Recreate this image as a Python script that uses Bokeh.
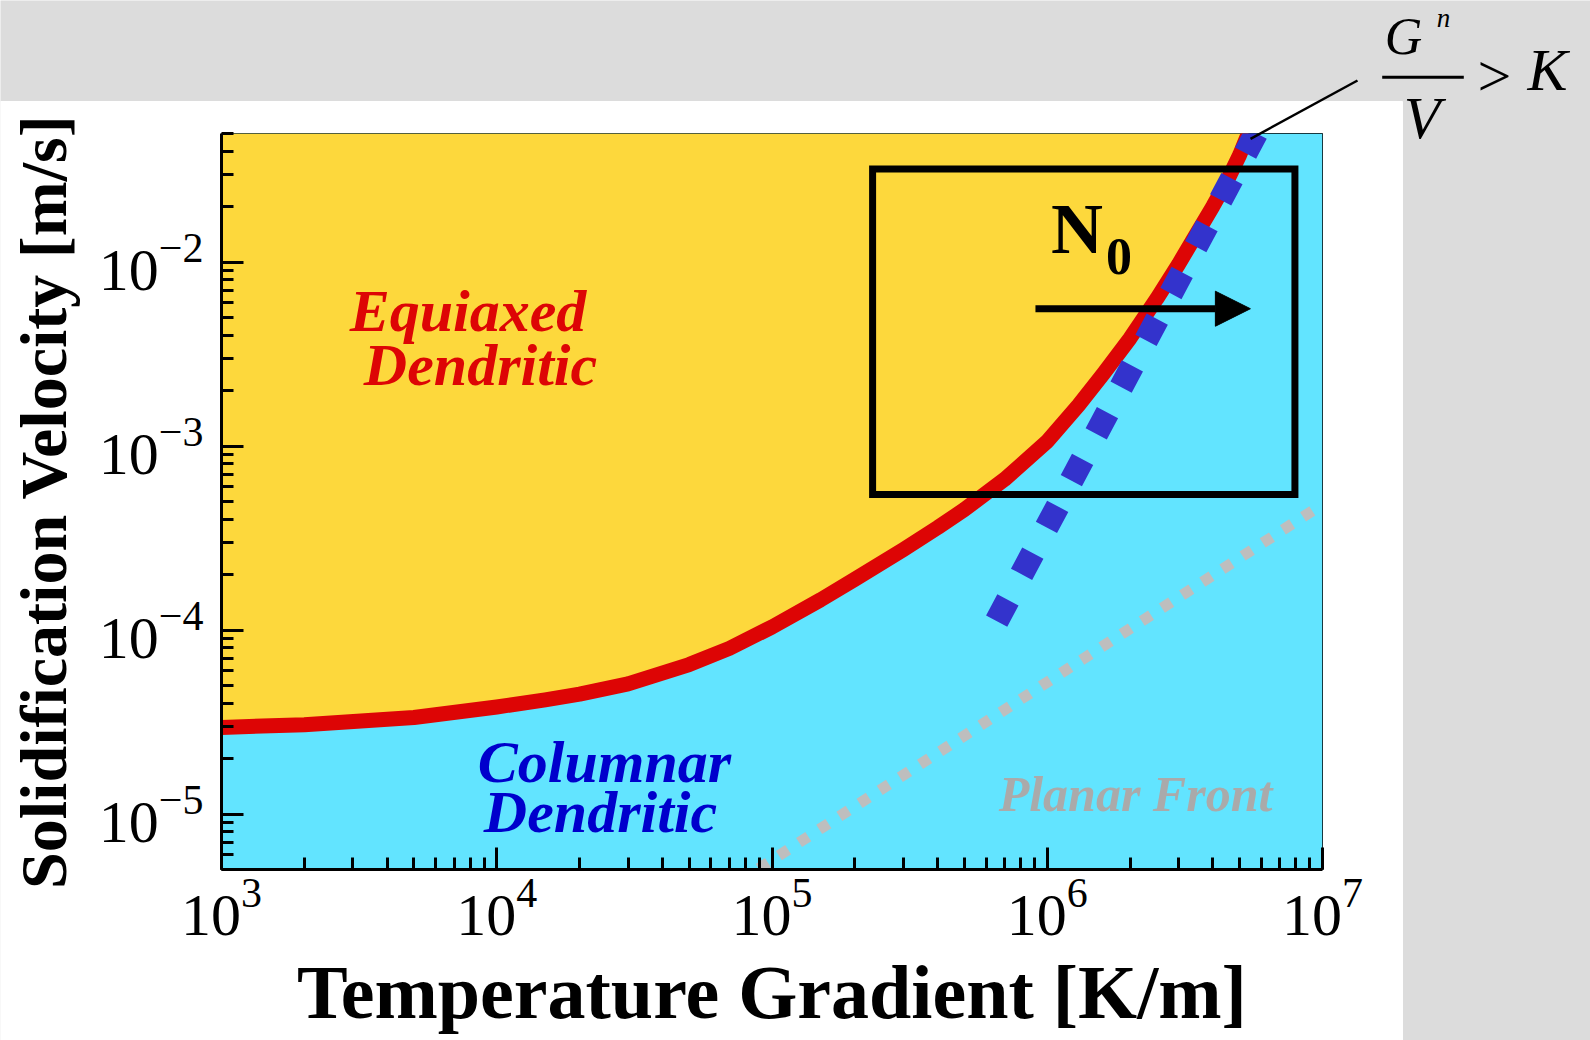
import numpy as np
from bokeh.plotting import figure
from bokeh.models import Label, Arrow, NormalHead
from bokeh.embed import file_html
from bokeh.resources import INLINE

# ---------------- data ----------------
G_RANGE = [1e3, 1e7]          # temperature gradient axis [K/m]
V_RANGE = [5e-6, 5e-2]        # solidification velocity axis [m/s]

# columnar-to-equiaxed boundary (red curve)
RED_G = [1e3, 2e3, 5e3, 1e4, 1.5e4, 2e4, 3e4, 5e4, 7e4, 1e5, 1.5e5, 2e5, 3e5, 4e5, 5e5,
         7e5, 1e6, 1.3e6, 1.6e6, 2e6, 2.5e6, 3e6, 3.5e6, 4e6, 4.5e6, 5e6, 5.38e6]
RED_V = [2.96e-5, 3.06e-5, 3.35e-5, 3.82e-5, 4.18e-5, 4.49e-5, 5.10e-5, 6.50e-5, 7.96e-5,
         1.04e-4, 1.46e-4, 1.89e-4, 2.74e-4, 3.61e-4, 4.52e-4, 6.60e-4, 1.06e-3, 1.67e-3,
         2.48e-3, 3.86e-3, 6.33e-3, 9.74e-3, 1.436e-2, 2.013e-2, 2.756e-2, 3.82e-2, 5.0e-2]

# G^n/V = K line (blue dotted)
BLUE_G = [6.55e5, 5.74e6]
BLUE_V = [1.12e-4, 5.02e-2]

# planar front limit (gray dotted)
GRAY_G = [8.95e4, 9.2e6]
GRAY_V = [5.06e-6, 4.45e-4]

# process window box and N0 arrow
BOX_G = [2.32e5, 7.94e6]
BOX_V = [5.46e-4, 3.21e-2]
ARROW_G = [9.06e5, 5.47e6]
ARROW_V = 5.58e-3

# ---------------- style ----------------
YELLOW = "#FDD83C"
CYAN = "#62E4FF"
RED = "#DD0505"
BLUE = "#3333CC"
GRAY_DOT = "#BEBEBE"
PAGE_GRAY = "#DCDCDC"
SERIF = "Liberation Serif"

W, H = 1590, 1040
FL, FT, FW, FH = 221, 133, 1101, 736   # frame position (page px)
BASE_FIX = 0.37                        # baseline correction (em)


def gx(px):
    lo, hi = np.log10(G_RANGE[0]), np.log10(G_RANGE[1])
    return 10 ** (lo + (px - FL) / FW * (hi - lo))


def vy(py):
    lo, hi = np.log10(V_RANGE[0]), np.log10(V_RANGE[1])
    return 10 ** (hi - (py - FT) / FH * (hi - lo))


def pos_styles(z):
    return {"position": "absolute", "left": "0px", "top": "0px", "z-index": str(z)}


def plain_canvas(fill, z):
    f = figure(width=W, height=H, x_range=(0, W), y_range=(H, 0), min_border=0,
               x_axis_location=None, y_axis_location=None, toolbar_location=None,
               output_backend="svg", outline_line_color=None,
               background_fill_color=fill, border_fill_color=fill)
    f.grid.visible = False
    f.styles = pos_styles(z)
    return f


# ---- page sheet (gray page with white panel) ----
sheet = plain_canvas(PAGE_GRAY, 0)
sheet.quad(left=[0], right=[1402], top=[101], bottom=[H], color="white")

# ---- main chart ----
chart = figure(x_axis_type="log", y_axis_type="log",
               x_range=tuple(G_RANGE), y_range=tuple(V_RANGE),
               width=W, height=H,
               min_border_left=FL, min_border_top=FT,
               min_border_right=W - FL - FW, min_border_bottom=H - FT - FH,
               output_backend="svg", toolbar_location=None,
               background_fill_color=CYAN, border_fill_color=None,
               outline_line_color="black", outline_line_width=1)
chart.styles = pos_styles(1)
chart.grid.visible = False

for ax in (chart.xaxis[0], chart.yaxis[0]):
    ax.axis_line_width = 3
    ax.axis_line_color = "black"
    ax.major_tick_line_width = 3
    ax.minor_tick_line_width = 3
    ax.major_tick_in = 22
    ax.major_tick_out = 0
    ax.minor_tick_in = 12
    ax.minor_tick_out = 0
    ax.major_label_text_font = SERIF
    ax.major_label_text_font_size = "60px"
    ax.major_label_text_color = "black"
    ax.axis_label_text_font = SERIF
    ax.axis_label_text_font_style = "bold"
    ax.axis_label_text_color = "black"

chart.xaxis.axis_label = "Temperature Gradient [K/m]"
chart.xaxis.axis_label_text_font_size = "76px"
chart.xaxis.major_label_standoff = 10
chart.xaxis.axis_label_standoff = 12
chart.yaxis.axis_label = "Solidification Velocity [m/s]"
chart.yaxis.axis_label_text_font_size = "66px"
chart.yaxis.major_label_standoff = 18
chart.yaxis.axis_label_standoff = 16

# regions
chart.varea(x=G_RANGE, y1=[V_RANGE[0]] * 2, y2=[V_RANGE[1]] * 2, color=CYAN)
chart.varea(x=RED_G, y1=RED_V, y2=[V_RANGE[1]] * len(RED_G), color=YELLOW)

# curves
chart.line(RED_G, RED_V, line_width=15, color=RED, line_cap="butt", line_join="round")
chart.line(GRAY_G, GRAY_V, line_width=11, color=GRAY_DOT, line_dash="11 13", line_cap="butt")
chart.line(BLUE_G, BLUE_V, line_width=24, color=BLUE, line_dash="24 29", line_cap="butt")

# process window
chart.quad(left=[BOX_G[0]], right=[BOX_G[1]], bottom=[BOX_V[0]], top=[BOX_V[1]],
           fill_alpha=0, line_color="black", line_width=7, line_join="miter")
chart.add_layout(Arrow(end=NormalHead(size=35, fill_color="black", line_color="black", line_width=1),
                       x_start=ARROW_G[0], y_start=ARROW_V, x_end=ARROW_G[1], y_end=ARROW_V,
                       line_width=7, line_color="black"))


def chart_label(text, px, py, size, color="black", style="bold italic"):
    chart.add_layout(Label(x=gx(px), y=vy(py - BASE_FIX * size), text=text, text_font=SERIF,
                           text_font_size=f"{size}px", text_font_style=style, text_color=color,
                           text_align="center", text_baseline="alphabetic"))


chart_label("Equiaxed", 467.5, 332.7, 60, RED)
chart_label("Dendritic", 480, 386.7, 60, RED)
chart_label("Columnar", 604, 783.3, 60, "#0000CC")
chart_label("Dendritic", 600, 833.3, 60, "#0000CC")
chart_label("Planar Front", 1135, 811.7, 50, "#AAAAAA")
chart_label("N", 1076.5, 255, 72, "black", "bold")
chart_label("0", 1118.5, 275, 52, "black", "bold")

# ---- overlay: criterion formula and pointer ----
over = plain_canvas(None, 2)
over.background_fill_alpha = 0
over.border_fill_alpha = 0


def over_label(text, px, py, size, style="italic"):
    over.add_layout(Label(x=px, y=py - BASE_FIX * size, text=text, text_font=SERIF,
                          text_font_size=f"{size}px", text_font_style=style, text_color="black",
                          text_align="center", text_baseline="alphabetic"))


over_label("G", 1403, 55, 52)
over_label("n", 1443, 27, 27)
over_label("V", 1421.5, 140, 60)
over_label(">", 1494, 98, 60, "normal")
over_label("K", 1547, 91.7, 60)
over.segment(x0=[1381.7, 1357], y0=[76.7, 80], x1=[1463.3, 1250], y1=[76.7, 138.3],
             line_width=[3, 2.5], color="black")

# three stacked layers at the page origin: sheet, chart, overlay
p = [sheet, chart, over]

open("out.html", "w").write(file_html(p, INLINE))
